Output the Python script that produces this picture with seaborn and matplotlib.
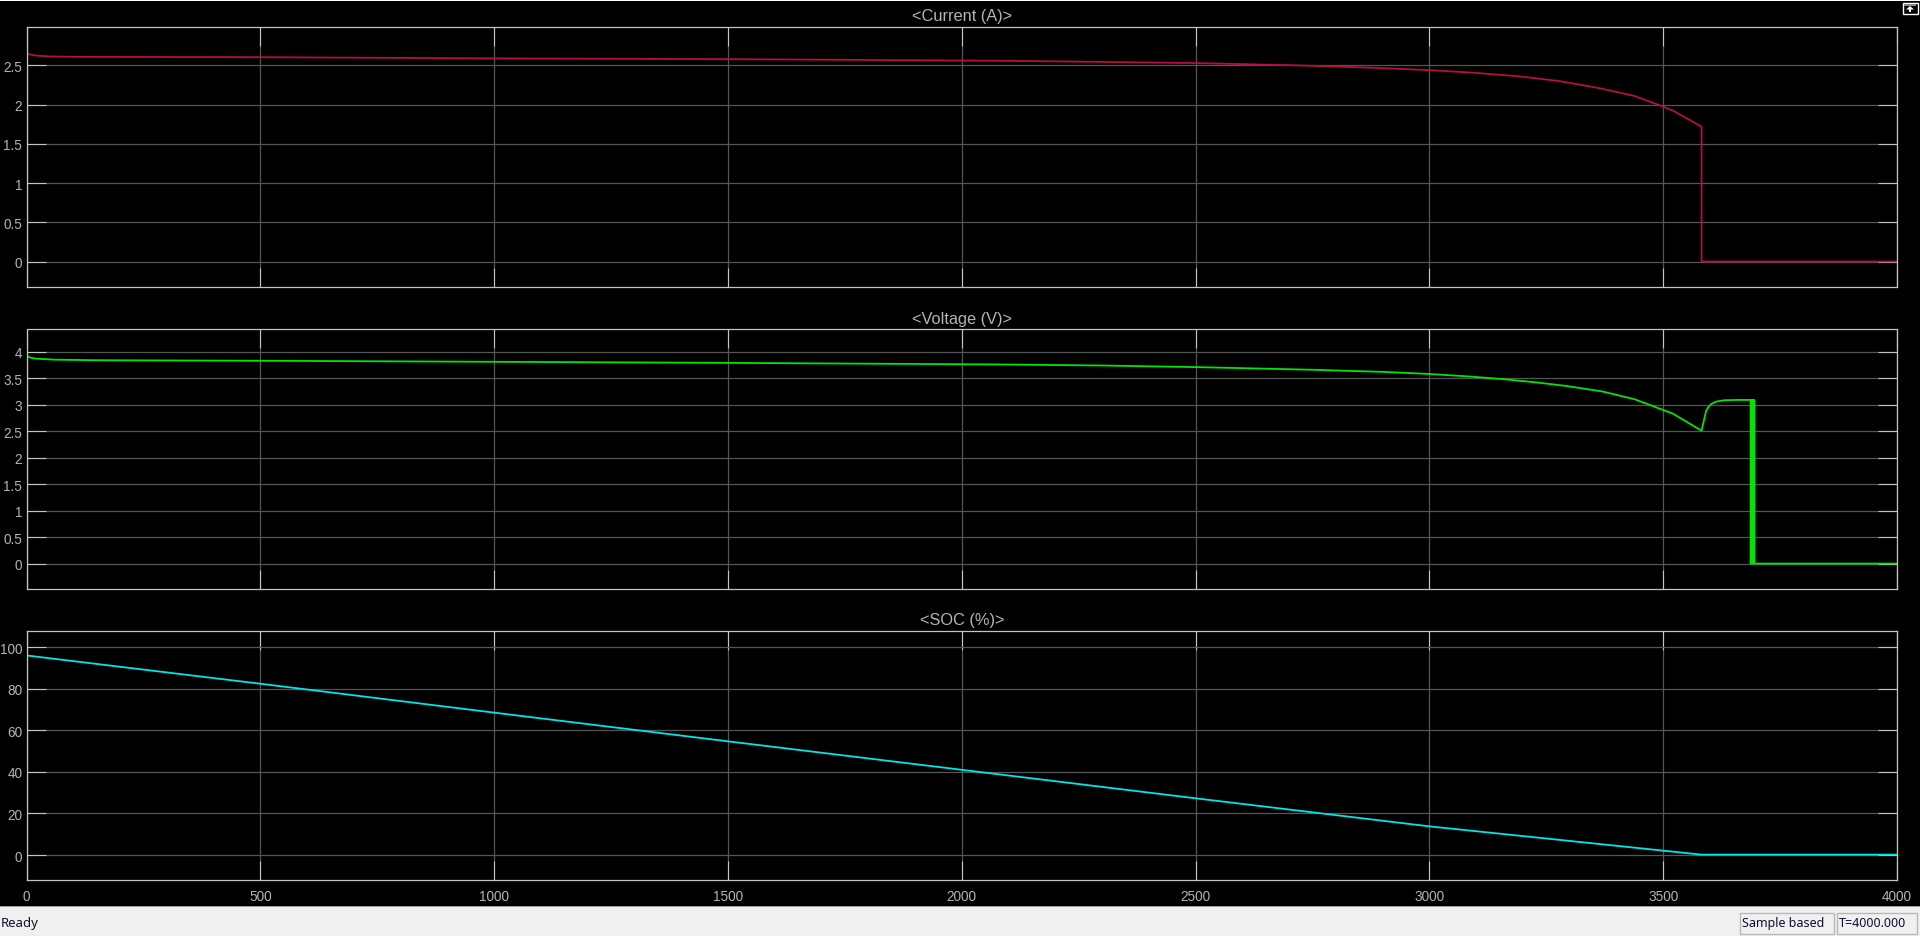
import matplotlib
matplotlib.use("Agg")
import matplotlib.pyplot as plt
from matplotlib.patches import Rectangle, Polygon
import seaborn as sns

# values
t_current = [0, 0, 8, 20, 50, 100, 500, 1000, 1500, 2081, 2300, 2500, 2723, 2880, 3000, 3100, 3193, 3278, 3364, 3439, 3500, 3522, 3582, 3582, 4000]
current = [0, 2.65, 2.64, 2.625, 2.615, 2.61, 2.605, 2.59, 2.58, 2.56, 2.545, 2.53, 2.5, 2.47, 2.44, 2.405, 2.36, 2.30, 2.21, 2.11, 1.975, 1.92, 1.72, 0, 0]

t_voltage = [0, 8, 20, 60, 150, 500, 1000, 1500, 2081, 2300, 2500, 2750, 2900, 3000, 3090, 3161, 3230, 3296, 3370, 3440, 3521, 3582, 3587, 3592, 3598, 3603, 3614, 3632, 3660,
             3687, 3687, 3689, 3689, 3691, 3691, 3693, 3693, 3695, 3695, 4000]
voltage = [3.92, 3.89, 3.87, 3.85, 3.84, 3.83, 3.81, 3.79, 3.76, 3.74, 3.71, 3.66, 3.62, 3.58, 3.53, 3.48, 3.42, 3.35, 3.25, 3.10, 2.83, 2.51, 2.70, 2.89, 2.97, 3.015, 3.06, 3.085, 3.09,
           3.09, 0, 0, 3.09, 3.09, 0, 0, 3.09, 3.09, 0, 0]

t_soc = [0, 500, 1000, 1500, 2000, 2500, 3000, 3582, 4000]
soc = [96, 82.4, 68.5, 54.7, 41, 27.3, 13.8, 0.2, 0.2]

titles = ["<Current (A)>", "<Voltage (V)>", "<SOC (%)>"]
xticks = [0, 500, 1000, 1500, 2000, 2500, 3000, 3500, 4000]
current_ticks = [0, 0.5, 1, 1.5, 2, 2.5]
current_labels = ["0", "0.5", "1", "1.5", "2", "2.5"]
voltage_ticks = [0, 0.5, 1, 1.5, 2, 2.5, 3, 3.5, 4]
voltage_labels = ["0", "0.5", "1", "1.5", "2", "2.5", "3", "3.5", "4"]
soc_ticks = [0, 20, 40, 60, 80, 100]

W, H = 1920, 937
FG = "#b4b4b4"

sns.set_style("dark", {"axes.facecolor": "black", "figure.facecolor": "black"})
plt.rcParams["font.family"] = ["Liberation Sans", "DejaVu Sans"]

fig = plt.figure(figsize=(W / 100, H / 100), dpi=100, facecolor="black")


def make_axes(top, bottom):
    return fig.add_axes([26.5 / W, 1 - bottom / H, (1897 - 26.5) / W, (bottom - top) / H])


def style_axes(ax, title, yticks, ylabels, ylim, show_x):
    ax.set_facecolor("black")
    ax.set_xlim(0, 4000)
    ax.set_ylim(*ylim)
    ax.set_xticks(xticks)
    ax.set_xticklabels([str(v) for v in xticks] if show_x else [])
    ax.set_yticks(yticks)
    ax.set_yticklabels(ylabels)
    ax.set_xlabel("")
    ax.set_ylabel("")
    ax.set_axisbelow(True)
    ax.grid(True, color="#555555", linewidth=0.9)
    ax.tick_params(axis="both", direction="in", length=13.7, width=0.8, color="#c4c4c4",
                   top=True, right=True, bottom=True, left=True, labelcolor=FG, labelsize=9.8)
    ax.tick_params(axis="y", pad=3)
    ax.tick_params(axis="x", pad=6.5)
    for s in ax.spines.values():
        s.set_visible(True)
        s.set_color("#c4c4c4")
        s.set_linewidth(0.9)
    ax.set_title(title, color=FG, fontsize=11.8, pad=4.8)


ax1 = make_axes(28, 288)
ax2 = make_axes(330.5, 590)
ax3 = make_axes(631.5, 881)

sns.lineplot(x=t_current, y=current, ax=ax1, color="#b5103c", linewidth=1.3, sort=False, estimator=None)
sns.lineplot(x=t_voltage, y=voltage, ax=ax2, color="#00e600", linewidth=1.3, sort=False, estimator=None)
sns.lineplot(x=t_soc, y=soc, ax=ax3, color="#00e6e6", linewidth=1.3, sort=False, estimator=None)

style_axes(ax1, titles[0], current_ticks, current_labels, (-0.325, 2.99), False)
style_axes(ax2, titles[1], voltage_ticks, voltage_labels, (-0.48, 4.42), False)
style_axes(ax3, titles[2], soc_ticks, [str(v) for v in soc_ticks], (-12, 108), True)


# window chrome, in pixels from the top left
def box(x0, y0, x1, y1, **kw):
    fig.add_artist(Rectangle((x0 / W, 1 - y1 / H), (x1 - x0) / W, (y1 - y0) / H,
                             transform=fig.transFigure, **kw))


box(0, 0, W, 2, facecolor="white", edgecolor="none")
box(0, 907, W, H, facecolor="#f0f0f0", edgecolor="none")
box(0, 906.5, W, 907.5, facecolor="#a0a0a0", edgecolor="none")
box(1739.5, 913.5, 1833.5, 934.5, facecolor="none", edgecolor="#b8b8b8", linewidth=1)
box(1836.5, 913.5, 1916.5, 934.5, facecolor="none", edgecolor="#b8b8b8", linewidth=1)
box(1902.5, 3.5, 1917.5, 14.5, facecolor="black", edgecolor="white", linewidth=1)
box(1904, 5, 1916, 7, facecolor="#8a8a8a", edgecolor="none")
arrow = [(1910, 7), (1914, 10.5), (1911, 10.5), (1911, 13), (1909, 13), (1909, 10.5), (1906, 10.5)]
fig.add_artist(Polygon([(x / W, 1 - y / H) for x, y in arrow], closed=True, facecolor="white",
                       edgecolor="none", transform=fig.transFigure))

for label, x, size in [("Ready", 1, 9.5), ("Sample based", 1742, 9), ("T=4000.000", 1839, 9)]:
    fig.text(x / W, 1 - 923.5 / H, label, color="#101030", fontsize=size, family="Noto Sans",
             ha="left", va="center")

fig.savefig("out.png", dpi=100, facecolor="black")
